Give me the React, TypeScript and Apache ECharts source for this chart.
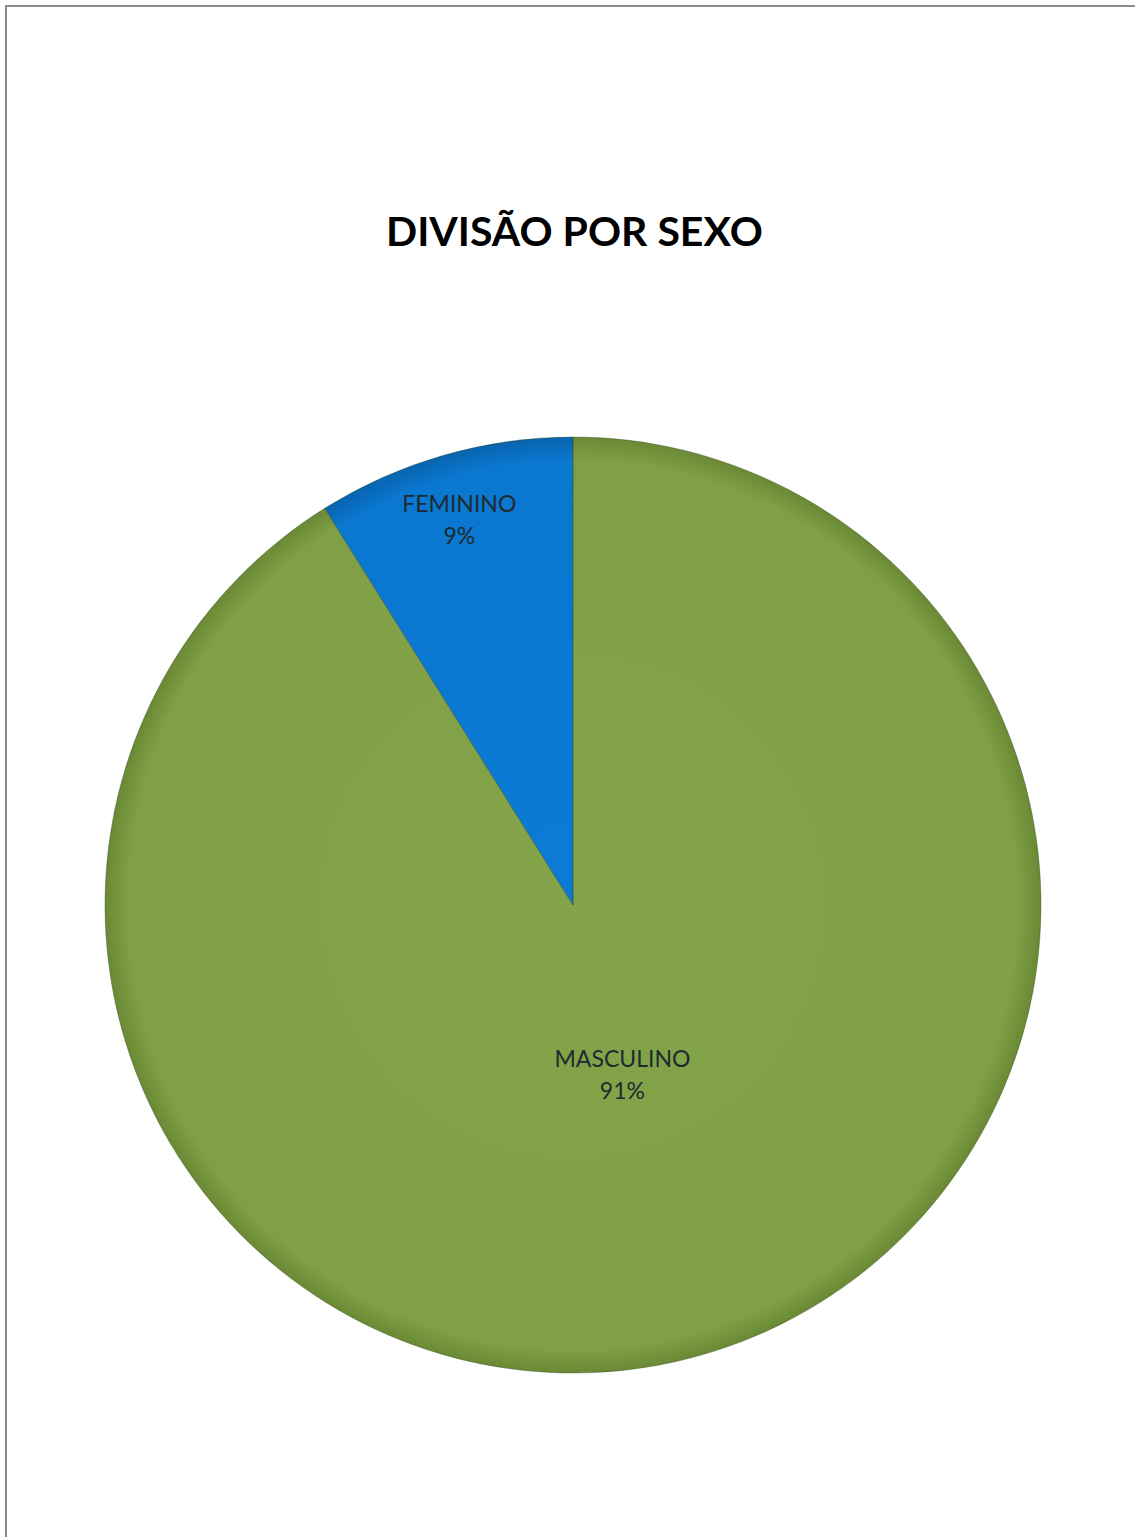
import React, { useEffect, useRef } from "react";
import * as echarts from "echarts";

const titleText = "DIVISÃO POR SEXO";
const categories = ["MASCULINO", "FEMININO"];
const values = [91.1, 8.9];
const sliceColors = [
  ["#84a449", "#80a045", "#6a8935"],
  ["#0b7bd5", "#0a77d0", "#0864ae"],
];
const labelRadiusFraction = [0.375, 0.857];

const CX = 573;
const CY = 905;
const R = 468;

export default function App() {
  const ref = useRef<HTMLDivElement>(null);
  useEffect(() => {
    document.body.style.margin = "0";
    const chart = echarts.init(ref.current!, undefined, { renderer: "svg" });
    const total = values.reduce((a, b) => a + b, 0);
    const mids: number[] = [];
    let acc = 0;
    values.forEach((v) => {
      const a = (v / total) * 360;
      mids.push(acc + a / 2);
      acc += a;
    });
    const data = categories.map((name, i) => ({
      name,
      value: values[i],
      itemStyle: {
        color: {
          type: "radial",
          global: true,
          x: CX,
          y: CY,
          r: R,
          colorStops: [
            { offset: 0, color: sliceColors[i][0] },
            { offset: 0.95, color: sliceColors[i][1] },
            { offset: 1, color: sliceColors[i][2] },
          ],
        },
      },
    }));
    chart.setOption({
      animation: false,
      backgroundColor: "#ffffff",
      title: {
        text: titleText,
        left: 381,
        top: 205,
        textStyle: {
          fontFamily: "Lato",
          fontWeight: "bold",
          fontSize: 41,
          color: "#000000",
        },
      },
      graphic: [
        {
          type: "rect",
          shape: { x: 6, y: 6, width: 1300, height: 1700 },
          style: { fill: "none", stroke: "#8a8a8a", lineWidth: 2 },
          z: 100,
        },
      ],
      series: [
        {
          type: "pie",
          center: [CX, CY],
          radius: R,
          startAngle: 90,
          clockwise: true,
          data,
          itemStyle: { borderColor: "rgba(40,60,20,0.35)", borderWidth: 1 },
          label: {
            show: true,
            position: "inside",
            fontFamily: "Lato",
            fontSize: 23,
            lineHeight: 32,
            color: "#1e2a30",
            formatter: (p: any) => `${p.name}\n${Math.round(p.percent)}%`,
          },
          labelLine: { show: false },
          labelLayout: (p: any) => {
            const i = p.dataIndex;
            const ang = (mids[i] * Math.PI) / 180;
            const d = R * labelRadiusFraction[i];
            return {
              x: CX + d * Math.sin(ang) + (i === 1 ? -3 : 1),
              y: CY - d * Math.cos(ang),
              align: "center",
              verticalAlign: "middle",
            };
          },
          emphasis: { disabled: true },
        },
      ],
    });
    return () => chart.dispose();
  }, []);
  return <div ref={ref} style={{ width: 1135, height: 1537 }} />;
}
